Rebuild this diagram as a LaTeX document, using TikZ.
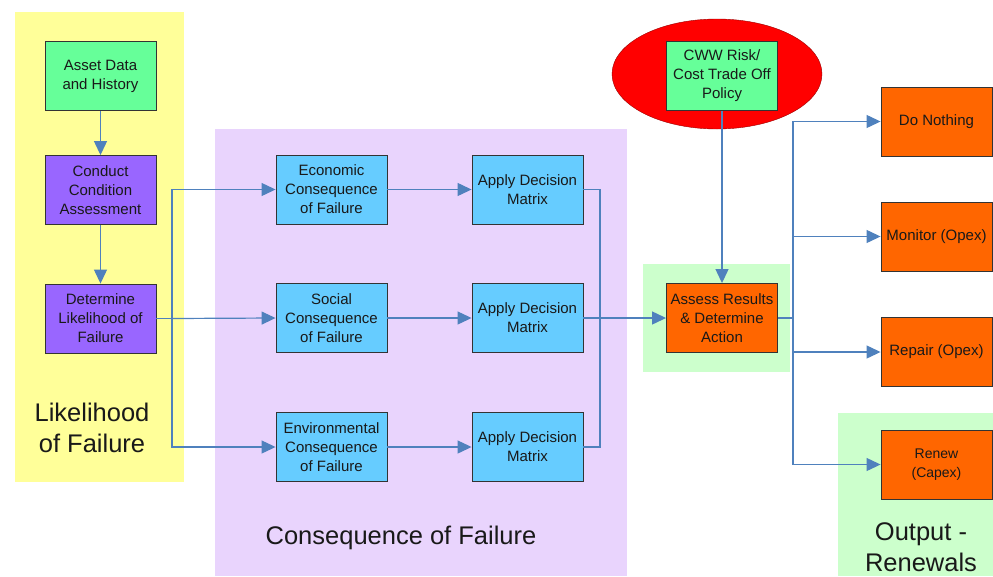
\documentclass[tikz,border=0pt]{standalone}
\usepackage{fontspec}
\setmainfont{Liberation Sans}
\usetikzlibrary{arrows.meta,shapes.geometric}
\definecolor{panelyellow}{HTML}{FFFF99}
\definecolor{panelviolet}{HTML}{E9D4FD}
\definecolor{panelgreen}{HTML}{CCFFCC}
\definecolor{mint}{HTML}{66FF99}
\definecolor{violet}{HTML}{9966FF}
\definecolor{sky}{HTML}{66CCFF}
\definecolor{rust}{HTML}{FF6600}
\definecolor{link}{HTML}{4F81BD}
\tikzset{
  box/.style={draw=black!80, line width=.9pt, minimum width=111pt, minimum height=69pt,
    inner sep=0pt, align=center, text=black!90, font=\fontsize{15}{19}\selectfont},
  big/.style={align=center, text=black!90, font=\fontsize{25.5}{31}\selectfont},
  link/.style={draw=link, line width=1.2pt},
  tip/.style={-{Triangle[length=14pt,width=13pt,fill=link]}},
}
\begin{document}
\begin{tikzpicture}[x=1pt, y=-1pt]
\useasboundingbox (0,0) rectangle (993,576);
% panels
\fill[panelyellow](15,12) rectangle (184,482);
\fill[panelviolet](215,129) rectangle (627,576);
\fill[panelgreen](643,264) rectangle (790,372);
\fill[panelgreen](838,413) rectangle (993,576);
\fill[red, draw=red!60!black](717,74) ellipse [x radius=105, y radius=55];

% likelihood of failure
\node (asset) at (100.5,76)[box, fill=mint]{Asset Data\\and History};
\node (conduct) at (100.5,190)[box, fill=violet]{Conduct\\Condition\\Assessment};
\node (likely) at (100.5,318.5)[box, fill=violet]{Determine\\Likelihood of\\Failure};
\node (lof) at (92,428)[big]{Likelihood\\of Failure};

% consequence of failure
\node (econ) at (331.5,189.5)[box, fill=sky]{Economic\\Consequence\\of Failure};
\node (social) at (331.5,318)[box, fill=sky]{Social\\Consequence\\of Failure};
\node (env) at (331.5,447)[box, fill=sky]{Environmental\\Consequence\\of Failure};
\node (matrixa) at (527.5,189.5)[box, fill=sky]{Apply Decision\\Matrix};
\node (matrixb) at (527.5,318)[box, fill=sky]{Apply Decision\\Matrix};
\node (matrixc) at (527.5,447)[box, fill=sky]{Apply Decision\\Matrix};
\node (cof) at (401,538)[big]{Consequence of Failure};

% decision
\node (policy) at (722,76)[box, fill=mint]{CWW Risk/\\Cost Trade Off\\Policy};
\node (assess) at (722,318)[box, fill=rust]{Assess Results\\\& Determine\\Action};

% outputs
\node (nothing) at (936.5,121.5)[box, fill=rust]{Do Nothing};
\node (monitor) at (936.5,236.5)[box, fill=rust]{Monitor (Opex)};
\node (repair) at (936.5,352)[box, fill=rust]{Repair (Opex)};
\node (renew) at (936.5,464.5)[box, fill=rust, font=\fontsize{14}{19}\selectfont]{Renew\\(Capex)};
\node (out) at (921,547)[big]{Output -\\Renewals};

\coordinate (split) at (172,318.5);
\coordinate (join) at (600,318);
\coordinate (fork) at (793,318);

\draw[link,tip](asset)--(conduct);
\draw[link,tip](conduct)--(likely);
\draw[link](likely)--(split);
\draw[link,tip](split)|-(econ.west);
\draw[link,tip](split)--(social.west);
\draw[link,tip](split)|-(env.west);
\draw[link,tip](econ)--(matrixa);
\draw[link,tip](social)--(matrixb);
\draw[link,tip](env)--(matrixc);
\draw[link](matrixa.east)-|(join);
\draw[link](matrixc.east)-|(join);
\draw[link,tip](matrixb)--(assess);
\draw[link,tip](policy)--(assess);
\draw[link](assess)--(fork);
\draw[link,tip](fork)|-(nothing.west);
\draw[link,tip](fork)|-(monitor.west);
\draw[link,tip](fork)|-(repair.west);
\draw[link,tip](fork)|-(renew.west);

\end{tikzpicture}
\end{document}
